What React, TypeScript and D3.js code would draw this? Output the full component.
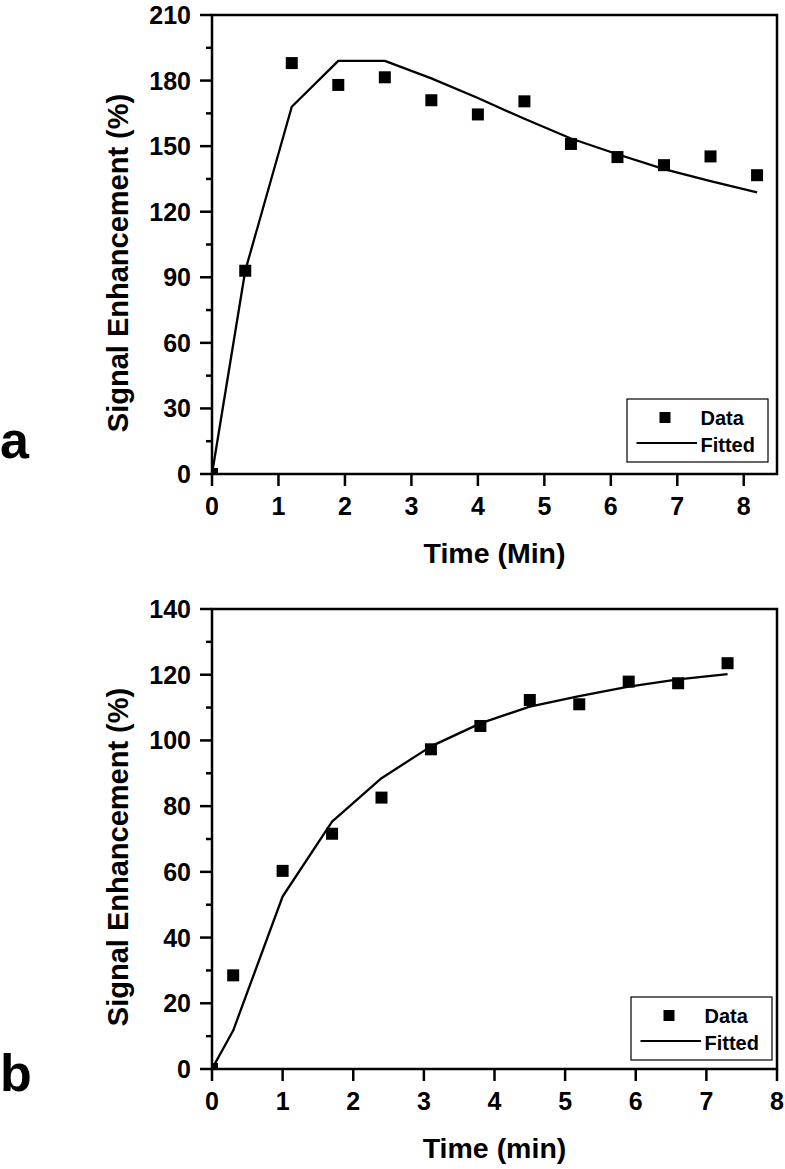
import React from "react";
import * as d3 from "d3";

// Panel a data
const timeA = [0, 0.5, 1.2, 1.9, 2.6, 3.3, 4.0, 4.7, 5.4, 6.1, 6.8, 7.5, 8.2];
const dataA = [0, 93, 188, 178, 181.5, 171, 164.5, 170.5, 151, 145, 141.3, 145.3, 136.7];
const fitA = [0, 93, 168, 189, 189, 181, 172, 162.5, 153.5, 146.3, 139.5, 134, 128.8];
const yTicksA = [0, 30, 60, 90, 120, 150, 180, 210];
const xTicksA = [0, 1, 2, 3, 4, 5, 6, 7, 8];

// Panel b data
const timeB = [0, 0.3, 1.0, 1.7, 2.4, 3.1, 3.8, 4.5, 5.2, 5.9, 6.6, 7.3];
const dataB = [0, 28.5, 60.3, 71.6, 82.6, 97.3, 104.4, 112.3, 111.0, 117.9, 117.4, 123.5];
const fitB = [0, 11.7, 52.5, 75.3, 88.5, 98.2, 105.2, 110.3, 113.5, 116.4, 118.6, 120.2];
const yTicksB = [0, 20, 40, 60, 80, 100, 120, 140];
const xTicksB = [0, 1, 2, 3, 4, 5, 6, 7, 8];

const FONT = "'Liberation Sans', Arial, Helvetica, sans-serif";

type PanelProps = {
  id: string;
  letter: string;
  letterX: number;
  letterY: number;
  xTitle: string;
  times: number[];
  data: number[];
  fit: number[];
  xDomain: [number, number];
  yDomain: [number, number];
  yTicks: number[];
  xTicks: number[];
  left: number;
  right: number;
  top: number;
  bottom: number;
  xTitleY: number;
  yTitleCenter: number;
  legendX: number;
  legendY: number;
};

function Panel(p: PanelProps) {
  const x = d3.scaleLinear().domain(p.xDomain).range([p.left, p.right]);
  const y = d3.scaleLinear().domain(p.yDomain).range([p.bottom, p.top]);
  const step = p.yTicks[1] - p.yTicks[0];
  const minor = p.yTicks.slice(0, -1).map((t) => t + step / 2);
  const line = d3
    .line<number>()
    .x((_, i) => x(p.times[i]))
    .y((d) => y(d));
  const clipId = `clip-${p.id}`;
  const ms = 12;
  const axisW = 2.5;
  return (
    <g>
      <defs>
        <clipPath id={clipId}>
          <rect x={p.left} y={p.top} width={p.right - p.left} height={p.bottom - p.top} />
        </clipPath>
      </defs>
      {/* data & fit */}
      <g clipPath={`url(#${clipId})`}>
        <path d={line(p.fit) || ""} fill="none" stroke="#000" strokeWidth={2.3} strokeLinejoin="round" />
        {p.data.map((v, i) => (
          <rect key={i} x={x(p.times[i]) - ms / 2} y={y(v) - ms / 2} width={ms} height={ms} fill="#000" />
        ))}
      </g>
      {/* frame */}
      <rect x={p.left} y={p.top} width={p.right - p.left} height={p.bottom - p.top} fill="none" stroke="#000" strokeWidth={axisW} />
      {/* y ticks */}
      {p.yTicks.map((t) => (
        <g key={`y${t}`}>
          <line x1={p.left - 12} x2={p.left} y1={y(t)} y2={y(t)} stroke="#000" strokeWidth={axisW} />
          <text x={p.left - 21} y={y(t)} dy="0.36em" textAnchor="end" fontFamily={FONT} fontWeight="bold" fontSize={25}>
            {t}
          </text>
        </g>
      ))}
      {minor.map((t) => (
        <line key={`m${t}`} x1={p.left - 6} x2={p.left} y1={y(t)} y2={y(t)} stroke="#000" strokeWidth={axisW} />
      ))}
      {/* x ticks */}
      {p.xTicks.map((t) => (
        <g key={`x${t}`}>
          <line x1={x(t)} x2={x(t)} y1={p.bottom} y2={p.bottom + 12} stroke="#000" strokeWidth={axisW} />
          <text x={x(t)} y={p.bottom + 41} textAnchor="middle" fontFamily={FONT} fontWeight="bold" fontSize={25}>
            {t}
          </text>
        </g>
      ))}
      {/* titles */}
      <text x={(p.left + p.right) / 2} y={p.xTitleY} textAnchor="middle" fontFamily={FONT} fontWeight="bold" fontSize={28.5}>
        {p.xTitle}
      </text>
      <text
        transform={`translate(128,${p.yTitleCenter}) rotate(-90)`}
        textAnchor="middle"
        fontFamily={FONT}
        fontWeight="bold"
        fontSize={29}
      >
        Signal Enhancement (%)
      </text>
      <text x={p.letterX} y={p.letterY} fontFamily={FONT} fontWeight="bold" fontSize={52}>
        {p.letter}
      </text>
      {/* legend */}
      <g transform={`translate(${p.legendX},${p.legendY})`}>
        <rect x={0} y={0} width={141} height={63} fill="#fff" stroke="#000" strokeWidth={1.2} />
        <rect x={38 - 5.5} y={18.5 - 5.5} width={11} height={11} fill="#000" />
        <text x={73.5} y={26} fontFamily={FONT} fontWeight="bold" fontSize={20}>
          Data
        </text>
        <line x1={9.5} x2={70} y1={44} y2={44} stroke="#000" strokeWidth={2} />
        <text x={73.5} y={53} fontFamily={FONT} fontWeight="bold" fontSize={20}>
          Fitted
        </text>
      </g>
    </g>
  );
}

export default function App() {
  return (
    <div style={{ position: "absolute", left: 0, top: 0 }}>
      <svg width={785} height={1169} viewBox="0 0 785 1169" style={{ display: "block", background: "#fff" }}>
        <rect x={0} y={0} width={785} height={1169} fill="#fff" />
        <Panel
          id="a"
          letter="a"
          letterX={0}
          letterY={458}
          xTitle="Time (Min)"
          times={timeA}
          data={dataA}
          fit={fitA}
          xDomain={[0, 8.5]}
          yDomain={[0, 210]}
          yTicks={yTicksA}
          xTicks={xTicksA}
          left={212}
          right={777}
          top={15}
          bottom={474}
          xTitleY={563}
          yTitleCenter={263}
          legendX={627}
          legendY={399}
        />
        <Panel
          id="b"
          letter="b"
          letterX={0}
          letterY={1091}
          xTitle="Time (min)"
          times={timeB}
          data={dataB}
          fit={fitB}
          xDomain={[0, 8]}
          yDomain={[0, 140]}
          yTicks={yTicksB}
          xTicks={xTicksB}
          left={212}
          right={777}
          top={609}
          bottom={1069}
          xTitleY={1158}
          yTitleCenter={857}
          legendX={631}
          legendY={997}
        />
      </svg>
    </div>
  );
}
